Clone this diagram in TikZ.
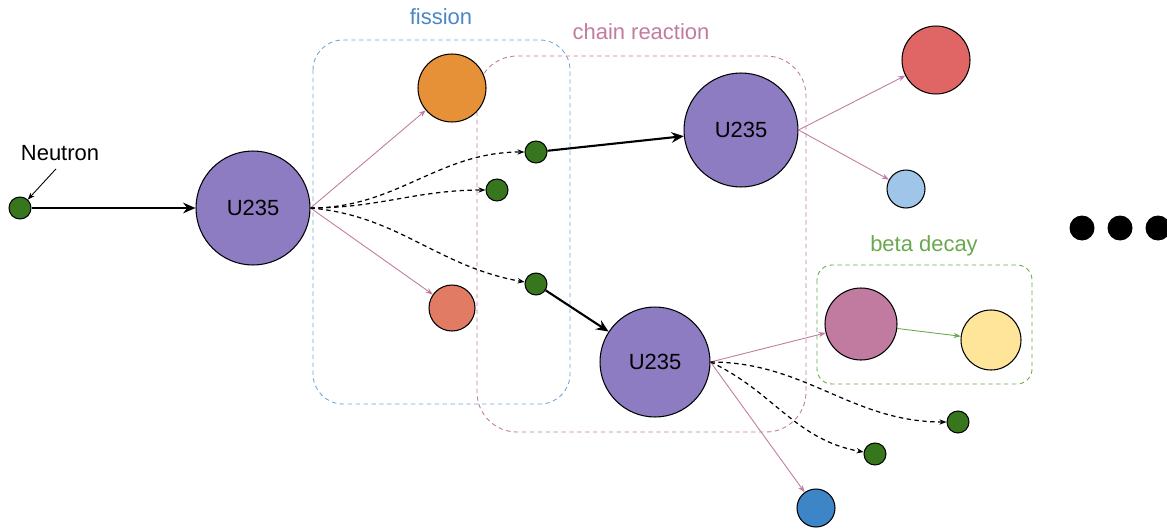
\documentclass[tikz,border=0pt]{standalone}
\usepackage{fontspec}
\setmainfont{Liberation Sans}
\usetikzlibrary{arrows.meta, positioning}

\definecolor{uviolet}{HTML}{8E7CC3}
\definecolor{ngreen}{HTML}{38761D}
\definecolor{forange}{HTML}{E69138}
\definecolor{fsalmon}{HTML}{E27B64}
\definecolor{fred}{HTML}{E06666}
\definecolor{flblue}{HTML}{9FC5E8}
\definecolor{fblue}{HTML}{3D85C6}
\definecolor{fmauve}{HTML}{C27BA0}
\definecolor{fyellow}{HTML}{FFE599}
\definecolor{boxblue}{HTML}{6FA8DC}
\definecolor{txtblue}{HTML}{4A86C8}
\definecolor{boxpink}{HTML}{C27BA0}
\definecolor{boxgreen}{HTML}{6AA84F}

\begin{document}
\begin{tikzpicture}[x=0.02cm,y=-0.02cm,
    atom/.style={circle,draw,line width=0.6pt,inner sep=0pt,font=\fontsize{12.5}{14}\selectfont},
    lbl/.style={font=\fontsize{12.5}{14}\selectfont},
    grp/.style={line width=0.5pt,dash pattern=on 2.5pt off 2pt},
    hit/.style={line width=1.2pt,-{Stealth[length=7pt,width=6pt]}},
    prod/.style={boxpink,line width=0.5pt,-{Stealth[length=4pt,width=3pt]}},
    emit/.style={line width=0.7pt,dash pattern=on 2.5pt off 2pt,-{Stealth[length=4pt,width=3pt]}}]
\clip (0,0) rectangle (1167,531);
% Groups
\draw[grp,boxblue,rounded corners=0.6cm] (313,40) rectangle (570,404);
\draw[grp,boxpink,rounded corners=0.8cm] (477,56) rectangle (806,432);
\draw[grp,boxgreen,rounded corners=0.3cm] (817,265) rectangle (1032,384);
\node[lbl,text=txtblue] (tfis) at (441,17) {fission};
\node[lbl,text=boxpink] (tchain) at (641,32) {chain reaction};
\node[lbl,text=boxgreen] (tbeta) at (924,246) {beta decay};
% Neutron
\node[atom,fill=ngreen,minimum size=0.44cm] (n0) at (20,208) {};
\node[lbl] (tn) at (60,153) {Neutron};
\draw[line width=0.5pt,-{Stealth[length=4pt,width=3pt]}] (tn.south) ++(-4,2) coordinate (tn1) (tn1) -- (n0);
% Uranium
\node[atom,fill=uviolet,minimum size=2.28cm] (u1) at (253,208) {U235};
\node[atom,fill=uviolet,minimum size=2.28cm] (u2) at (741,130) {U235};
\node[atom,fill=uviolet,minimum size=2.2cm] (u3) at (655,362) {U235};
% Fission products
\node[atom,fill=forange,minimum size=1.36cm] (p1) at (452,88) {};
\node[atom,fill=fsalmon,minimum size=0.92cm] (p2) at (452,308) {};
\node[atom,fill=fred,minimum size=1.36cm] (p3) at (936,60) {};
\node[atom,fill=flblue,minimum size=0.76cm] (p4) at (906,189) {};
\node[atom,fill=fmauve,minimum size=1.44cm] (p5) at (861,324) {};
\node[atom,fill=fyellow,minimum size=1.2cm] (p6) at (991,340) {};
\node[atom,fill=fblue,minimum size=0.76cm] (p7) at (816,508) {};
% Free neutrons
\foreach \n/\x/\y in {1/536/152, 2/497/190, 3/536/284, 4/958/422, 5/875/454} {
    \node[atom,fill=ngreen,minimum size=0.44cm] (g\n) at (\x,\y) {};
}
% More
\foreach \i/\x in {1/1082, 2/1120, 3/1158} {
    \node[circle,fill=black,inner sep=0pt,minimum size=0.5cm] (d\i) at (\x,228) {};
}
% Connections
\draw[hit] (n0) -- (u1);
\draw[hit] (g1) -- (u2);
\draw[hit] (g3) -- (u3);
\draw[prod] (u1.east) -- (p1);
\draw[prod] (u1.east) -- (p2);
\draw[prod] (u2.east) -- (p3);
\draw[prod] (u2.east) -- (p4);
\draw[prod] (u3.east) -- (p5);
\draw[prod] (u3.east) -- (p7);
\draw[boxgreen,line width=0.5pt,-{Stealth[length=4pt,width=3pt]}] (p5) -- (p6);
\draw[emit] (u1.east) to[out=0,in=180] (g1);
\draw[emit] (u1.east) to[out=0,in=180] (g2);
\draw[emit] (u1.east) to[out=-5,in=170] (g3);
\draw[emit] (u3.east) to[out=0,in=180] (g4);
\draw[emit] (u3.east) to[out=-25,in=170] (g5);
\end{tikzpicture}
\end{document}
